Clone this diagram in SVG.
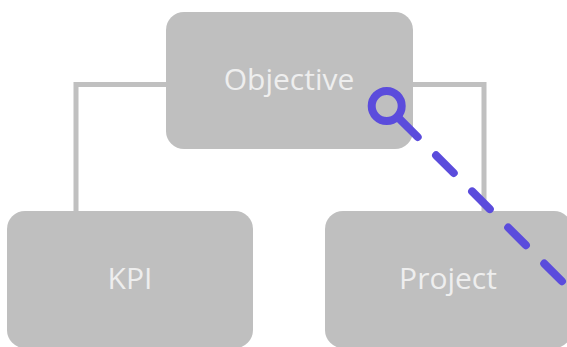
<svg xmlns="http://www.w3.org/2000/svg" width="567" height="347" viewBox="0 0 567 347">
  <style>
    .box { fill: #bfbfbf; }
    .label { fill: #eeeeee; font-family: "Open Sans", "DejaVu Sans", sans-serif; font-size: 30px; font-weight: 500; text-anchor: middle; }
    .tree { fill: none; stroke: #c0c0c0; stroke-width: 5; stroke-linejoin: miter; }
    .link { fill: none; stroke: #5b4cdc; stroke-width: 8; stroke-linecap: round; }
  </style>
  <rect width="567" height="347" fill="#ffffff"/>
  <g id="connectors">
    <polyline class="tree" points="166,84.5 76,84.5 76,211"/>
    <polyline class="tree" points="413,84.5 484,84.5 484,211"/>
  </g>
  <g id="objective">
    <rect class="box" x="166" y="12" width="247" height="137" rx="18"/>
    <text class="label" x="289" y="90">Objective</text>
  </g>
  <g id="kpi">
    <rect class="box" x="7" y="211" width="246" height="137" rx="18"/>
    <text class="label" x="130" y="289">KPI</text>
  </g>
  <g id="project">
    <rect class="box" x="325" y="211" width="247" height="137" rx="18"/>
    <text class="label" x="448" y="289">Project</text>
  </g>
  <g id="link">
    <circle class="link" cx="386.7" cy="106" r="15" stroke-width="9"/>
    <line class="link" x1="400" y1="119.3" x2="620" y2="339.3" stroke-dasharray="25 26"/>
  </g>
</svg>
